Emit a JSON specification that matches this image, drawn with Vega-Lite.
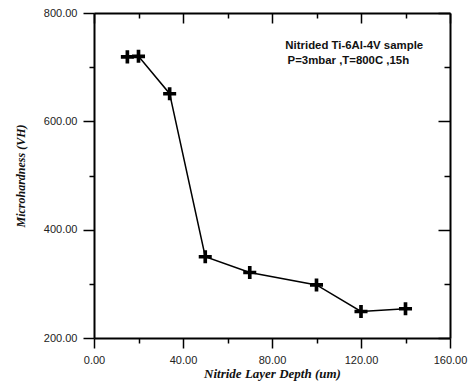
{
  "$schema": "https://vega.github.io/schema/vega-lite/v6.json",
  "width": 356,
  "height": 325,
  "autosize": "none",
  "padding": {"left": 94, "top": 13, "right": 18, "bottom": 45},
  "background": "white",
  "config": {
    "view": {"stroke": null},
    "axis": {
      "domainColor": "black",
      "domainWidth": 2,
      "tickColor": "black",
      "tickWidth": 1.5,
      "grid": false,
      "labelFont": "Liberation Sans",
      "labelFontSize": 11,
      "labelColor": "#222",
      "titleFont": "Liberation Serif",
      "titleFontStyle": "italic",
      "titleFontWeight": "bold",
      "titleColor": "#111"
    }
  },
  "data": {
    "values": [
      {"depth": 15, "hardness": 719},
      {"depth": 20, "hardness": 720},
      {"depth": 34, "hardness": 651},
      {"depth": 50, "hardness": 350},
      {"depth": 70, "hardness": 321},
      {"depth": 100, "hardness": 298},
      {"depth": 120, "hardness": 249},
      {"depth": 140, "hardness": 254}
    ]
  },
  "layer": [
    {
      "mark": {"type": "line", "color": "black", "strokeWidth": 1.5},
      "encoding": {
        "x": {
          "field": "depth", "type": "quantitative",
          "scale": {"domain": [0, 160], "nice": false, "zero": false},
          "axis": {
            "orient": "bottom",
            "values": [0, 20, 40, 60, 80, 100, 120, 140, 160],
            "labelExpr": "datum.value % 40 === 0 ? format(datum.value, '.2f') : ''",
            "tickSize": {"condition": {"test": "datum.value % 40 === 0", "value": 10}, "value": 5},
            "labelPadding": 6,
            "labelFlush": false,
            "title": "Nitride Layer Depth (um)",
            "titleFontSize": 13,
            "titlePadding": 2
          }
        },
        "y": {
          "field": "hardness", "type": "quantitative",
          "scale": {"domain": [200, 800], "nice": false, "zero": false},
          "axis": {
            "orient": "left",
            "values": [200, 300, 400, 500, 600, 700, 800],
            "labelExpr": "datum.value % 200 === 0 ? format(datum.value, '.2f') : ''",
            "tickSize": {"condition": {"test": "datum.value % 200 === 0", "value": 11}, "value": 5},
            "labelPadding": 6,
            "labelFlush": false,
            "title": "Microhardness (VH)",
            "titleFontSize": 12,
            "titlePadding": 16
          }
        }
      }
    },
    {
      "mark": {"type": "point", "shape": "M-1,-0.28H1V0.28H-1Z M-0.28,-1H0.28V1H-0.28Z", "filled": true, "color": "black", "opacity": 1, "size": 170},
      "encoding": {
        "x": {"field": "depth", "type": "quantitative",
          "axis": {
            "orient": "top",
            "values": [0, 20, 40, 60, 80, 100, 120, 140, 160],
            "labels": false,
            "title": null,
            "tickSize": {"condition": {"test": "datum.value % 40 === 0", "value": -10}, "value": -5}
          }
        },
        "y": {"field": "hardness", "type": "quantitative",
          "axis": {
            "orient": "right",
            "values": [200, 300, 400, 500, 600, 700, 800],
            "labels": false,
            "title": null,
            "tickSize": {"condition": {"test": "datum.value % 200 === 0", "value": -12}, "value": -6}
          }
        }
      }
    },
    {
      "data": {"values": [
        {"line": "Nitrided Ti-6Al-4V sample", "tx": 86, "ty": 739},
        {"line": "P=3mbar ,T=800C ,15h", "tx": 87, "ty": 711}
      ]},
      "mark": {"type": "text", "align": "left", "baseline": "middle", "font": "Liberation Sans", "fontWeight": "bold", "fontSize": 11.4, "color": "#111"},
      "encoding": {
        "x": {"field": "tx", "type": "quantitative", "axis": null},
        "y": {"field": "ty", "type": "quantitative", "axis": null},
        "text": {"field": "line"}
      }
    }
  ],
  "resolve": {"axis": {"x": "independent", "y": "independent"}}
}
